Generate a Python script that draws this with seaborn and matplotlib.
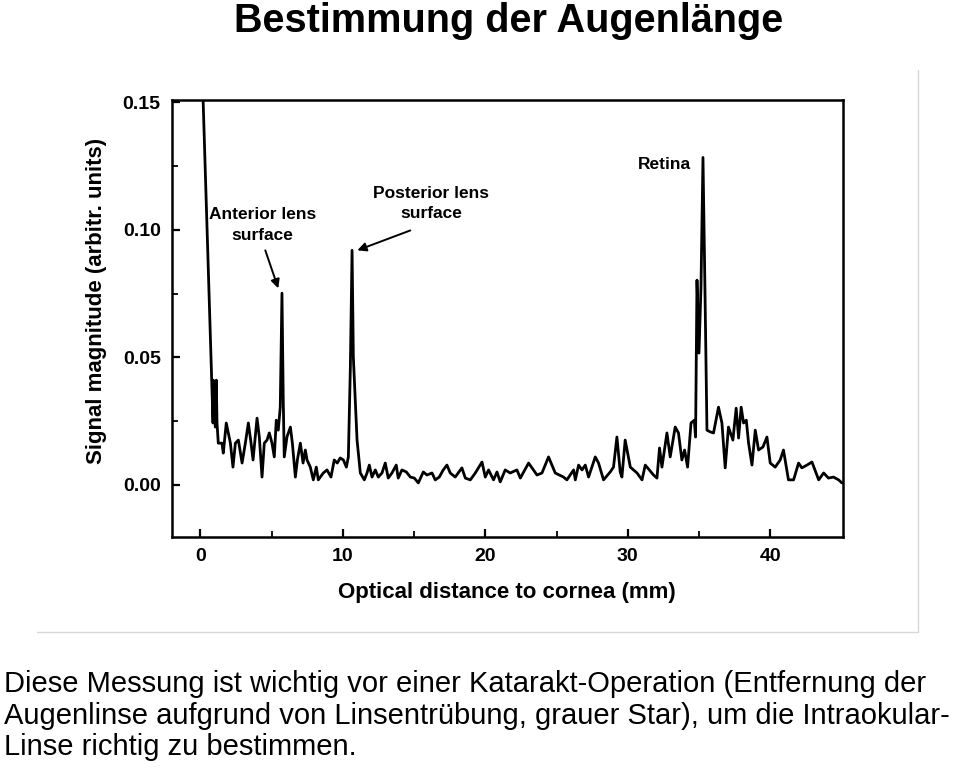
import matplotlib
matplotlib.use("Agg")
import matplotlib.pyplot as plt
import seaborn as sns
import pandas as pd

# trace (mm, arbitrary units)
distance_mm = [
    0.10, 0.20, 0.70, 0.89, 0.91, 1.05, 1.12, 1.17, 1.26, 1.52, 1.61, 1.82, 1.96, 2.11,
    2.29, 2.46, 2.67, 2.93, 3.16, 3.37, 3.56, 3.70, 3.98, 4.14, 4.33, 4.49, 4.68, 4.84,
    5.03, 5.19, 5.33, 5.47, 5.61, 5.73, 5.82, 5.89, 6.08, 6.32, 6.46, 6.67, 6.81, 7.02,
    7.21, 7.37, 7.49, 7.72, 7.93, 8.14, 8.28, 8.63, 8.89, 9.17, 9.40, 9.61, 9.82, 10.04,
    10.25, 10.39, 10.53, 10.65, 10.74, 11.00, 11.23, 11.51, 11.70, 11.86, 12.05, 12.28,
    12.49, 12.75, 12.98, 13.19, 13.45, 13.75, 13.89, 14.15, 14.46, 14.74, 15.02, 15.30,
    15.65, 15.91, 16.26, 16.49, 16.77, 17.05, 17.31, 17.54, 17.89, 18.36, 18.60, 18.95,
    19.30, 19.77, 20.00, 20.23, 20.58, 20.82, 21.05, 21.40, 21.75, 22.22, 22.46, 23.04,
    23.63, 23.98, 24.44, 24.91, 25.49, 25.73, 26.20, 26.32, 26.55, 26.79, 27.02, 27.25,
    27.72, 27.95, 28.30, 28.77, 29.00, 29.24, 29.47, 29.59, 29.82, 30.18, 30.65, 31.00,
    31.23, 31.81, 32.05, 32.23, 32.40, 32.75, 32.98, 33.33, 33.56, 33.80, 33.99, 34.20,
    34.44, 34.67, 34.76, 34.86, 35.00, 35.14, 35.28, 35.42, 35.56, 35.79, 36.02, 36.37,
    36.61, 36.84, 37.07, 37.38, 37.61, 37.78, 37.96, 38.13, 38.32, 38.48, 38.72, 38.95,
    39.18, 39.49, 39.77, 40.00, 40.35, 40.70, 40.93, 41.28, 41.64, 41.99, 42.22, 42.58,
    42.93, 43.40, 43.75, 44.09, 44.44, 44.80, 45.03,
]
signal = [
    0.170, 0.150, 0.0595, 0.0243, 0.0411, 0.0227, 0.0411, 0.0243, 0.0164, 0.0164, 0.0125,
    0.0243, 0.0204, 0.0164, 0.0070, 0.0164, 0.0176, 0.0086, 0.0164, 0.0243, 0.0164, 0.0098,
    0.0262, 0.0188, 0.0031, 0.0164, 0.0176, 0.0204, 0.0164, 0.0110, 0.0254, 0.0215, 0.0305,
    0.0752, 0.0333, 0.0110, 0.0188, 0.0227, 0.0164, 0.0031, 0.0098, 0.0164, 0.0086, 0.0137,
    0.0098, 0.0070, 0.0020, 0.0070, 0.0020, 0.0047, 0.0059, 0.0031, 0.0098, 0.0086, 0.0106,
    0.0098, 0.0070, 0.0110, 0.0462, 0.0920, 0.0501, 0.0176, 0.0047, 0.0020, 0.0047, 0.0078,
    0.0031, 0.0059, 0.0031, 0.0047, 0.0086, 0.0027, 0.0047, 0.0078, 0.0027, 0.0059, 0.0051,
    0.0031, 0.0027, 0.0008, 0.0051, 0.0039, 0.0047, 0.0020, 0.0031, 0.0059, 0.0078, 0.0047,
    0.0031, 0.0067, 0.0027, 0.0020, 0.0047, 0.0090, 0.0031, 0.0059, 0.0020, 0.0051, 0.0012,
    0.0059, 0.0047, 0.0059, 0.0027, 0.0086, 0.0039, 0.0047, 0.0110, 0.0047, 0.0031, 0.0020,
    0.0059, 0.0020, 0.0078, 0.0059, 0.0078, 0.0031, 0.0110, 0.0086, 0.0020, 0.0051, 0.0070,
    0.0188, 0.0051, 0.0031, 0.0176, 0.0070, 0.0047, 0.0020, 0.0078, 0.0039, 0.0027, 0.0145,
    0.0070, 0.0204, 0.0110, 0.0227, 0.0204, 0.0098, 0.0137, 0.0070, 0.0243, 0.0254, 0.0188,
    0.0803, 0.0517, 0.0775, 0.1284, 0.0764, 0.0215, 0.0208, 0.0204, 0.0305, 0.0243, 0.0067,
    0.0227, 0.0176, 0.0301, 0.0184, 0.0305, 0.0243, 0.0254, 0.0164, 0.0078, 0.0215, 0.0137,
    0.0149, 0.0188, 0.0086, 0.0070, 0.0098, 0.0137, 0.0020, 0.0020, 0.0086, 0.0067, 0.0078,
    0.0090, 0.0020, 0.0047, 0.0027, 0.0031, 0.0020, 0.0008,
]

x_ticks = [0, 10, 20, 30, 40]
y_ticks = [0.00, 0.05, 0.10, 0.15]

title = "Bestimmung der Augenlänge"
caption = ("Diese Messung ist wichtig vor einer Katarakt-Operation (Entfernung der\n"
           "Augenlinse aufgrund von Linsentrübung, grauer Star), um die Intraokular-\n"
           "Linse richtig zu bestimmen.")

df = pd.DataFrame({"mm": distance_mm, "signal": signal})

sns.set_theme(style="ticks")
plt.rcParams["font.family"] = ["Liberation Sans", "DejaVu Sans"]
plt.rcParams["text.color"] = "black"
plt.rcParams["axes.labelcolor"] = "black"
plt.rcParams["xtick.color"] = "black"
plt.rcParams["ytick.color"] = "black"

fig = plt.figure(figsize=(9.6, 7.71), dpi=100)
ax = fig.add_axes([0.179, 0.3035, 0.699, 0.567])

sns.lineplot(data=df, x="mm", y="signal", ax=ax, color="black", lw=2,
             sort=False, estimator=None)

ax.set_xlim(-2, 45.1)
ax.set_ylim(-0.0204, 0.151)
ax.set_xticks(x_ticks)
ax.set_yticks(y_ticks)
ax.set_xticks([5, 15, 25, 35], minor=True)
ax.set_yticks([0.025, 0.075, 0.125], minor=True)
ax.set_yticklabels([f"{v:.2f}" for v in y_ticks])
ax.tick_params(which="major", direction="in", length=6, width=1.6,
               labelsize=14, pad=8)
ax.tick_params(which="minor", direction="in", length=4, width=1.3)
for lab in ax.get_xticklabels() + ax.get_yticklabels():
    lab.set_fontweight("bold")
for s in ax.spines.values():
    s.set_linewidth(1.8)
    s.set_color("black")

ax.set_xlabel("Optical distance to cornea (mm)", fontsize=16, fontweight="bold",
              labelpad=12)
ax.set_ylabel("")
fig.text(97 / 960, 1 - 301 / 771, "Signal magnitude (arbitr. units)", rotation=90,
         ha="center", va="center", fontsize=16, fontweight="bold")

ann = dict(fontsize=12.5, fontweight="bold", ha="center", va="center",
           linespacing=1.45)
arrow = dict(arrowstyle="-|>", color="black", lw=1.4, shrinkA=0, shrinkB=0,
             mutation_scale=13)
ax.text(4.35, 0.1019, "Anterior lens\nsurface", **ann)
ax.annotate("", xy=(5.47, 0.0771), xytext=(4.56, 0.0920), arrowprops=arrow)
ax.text(16.2, 0.1104, "Posterior lens\nsurface", **ann)
ax.annotate("", xy=(11.02, 0.0920), xytext=(14.74, 0.0998), arrowprops=arrow)
ax.text(32.6, 0.1257, "Retina", **ann)

# faint border of the scanned figure
fig.add_artist(plt.Line2D([918 / 960, 918 / 960], [1 - 70 / 771, 1 - 632 / 771],
                          color="#d8d8d8", lw=1))
fig.add_artist(plt.Line2D([37 / 960, 918 / 960], [1 - 632 / 771, 1 - 632 / 771],
                          color="#d8d8d8", lw=1))

fig.text(509 / 960, 1 - 21 / 771, title, ha="center", va="center",
         fontsize=28.5, fontweight="bold")
fig.text(4 / 960, 1 - 670 / 771, caption, ha="left", va="top", fontsize=21,
         linespacing=1.17)

fig.savefig("out.png", dpi=100, facecolor="white")
